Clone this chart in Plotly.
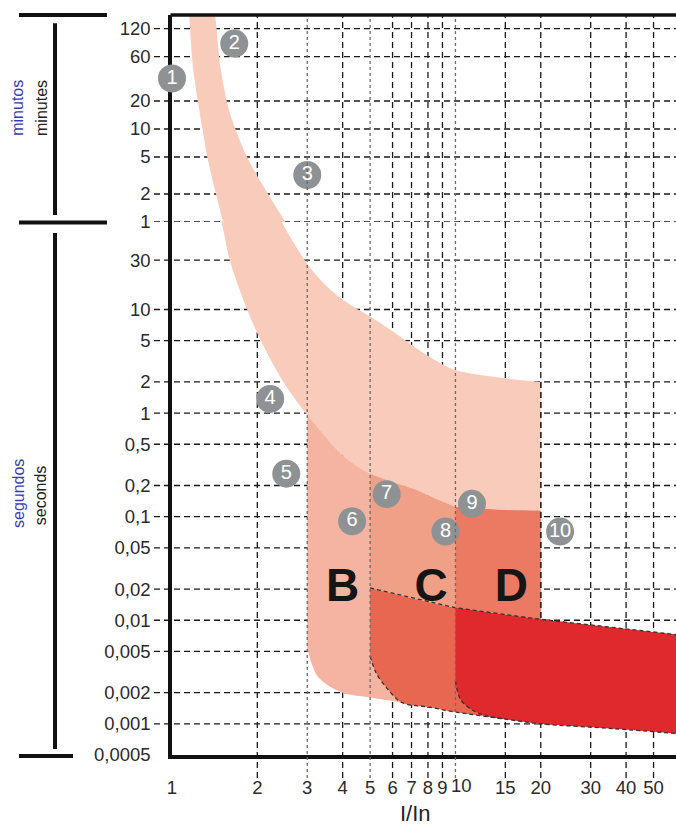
import numpy as np
import plotly.graph_objects as go

# ---------------- data ----------------
x_ticks = [1, 2, 3, 4, 5, 6, 7, 8, 9, 10, 15, 20, 30, 40, 50]
x_labels = ["1", "2", "3", "4", "5", "6", "7", "8", "9", "10",
            "15", "20", "30", "40", "50"]
min_ticks = [1, 2, 5, 10, 20, 60, 120]
sec_ticks = [0.0005, 0.001, 0.002, 0.005, 0.01, 0.02, 0.05, 0.1, 0.2, 0.5, 1, 2, 5, 10, 30]
sec_labels = ["0,0005", "0,001", "0,002", "0,005", "0,01", "0,02", "0,05",
              "0,1", "0,2", "0,5", "1", "2", "5", "10", "30"]

# thermal band, upper limit (I/In, seconds)
upper_x = [1.38, 1.42, 1.488, 1.587, 1.678, 1.84, 2.2, 2.95, 3.36, 3.96, 4.71,
           5.2, 6.46, 7.91, 10, 15, 20]
upper_t = [16000, 9900, 2580, 966, 590, 300, 115, 29.4, 19, 12.7, 9.4,
           8.0, 5.35, 3.64, 2.6, 2.16, 2.0]
# thermal band, lower limit
lower_x = [1.13, 1.149, 1.189, 1.283, 1.332, 1.40, 1.516, 1.602, 1.84, 2.06, 2.47,
           3.0, 3.5, 4.07, 5.0, 6.0, 7.2, 8.56, 10, 15, 20]
lower_t = [16000, 9900, 2580, 587, 300, 156, 59, 29.4, 10, 5, 2,
           0.96, 0.582, 0.376, 0.26, 0.215, 0.183, 0.148, 0.124, 0.116, 0.114]
# instantaneous zone, lower limit (B corner then common bottom line)
bottom_x = [3.0, 3.12, 3.27, 3.6, 4.07, 5.0, 6.46, 8.18, 10, 15, 20, 35.9, 62]
bottom_t = [0.00534, 0.00372, 0.00284, 0.00229, 0.00196, 0.0018, 0.00161, 0.00144,
            0.0013, 0.00111, 0.001, 0.0009, 0.0008]
# instantaneous zone C/D upper limit
inst_top_x = [5, 10, 20, 62]
inst_top_t = [0.0205, 0.0132, 0.0102, 0.0072]
# rounded corners of C and D
c_corner_x = [5, 5.25, 5.7, 6.46]
c_corner_t = [0.0045, 0.0031, 0.00225, 0.00161]
d_corner_x = [10, 10.42, 11.5, 12.8]
d_corner_t = [0.0026, 0.00172, 0.00135, 0.0012]

zone_edges = [3, 5, 10]
letters = ["B", "C", "D"]
letter_x = [4.0, 8.2, 15.75]
letter_t = [0.02, 0.02, 0.02]

marker_n = ["1", "2", "3", "4", "5", "6", "7", "8", "9", "10"]
marker_x = [1.0, 1.658, 3.0, 2.22, 2.53, 4.32, 5.72, 9.22, 11.44, 23.4]
marker_t = [2094, 4980, 192, 1.37, 0.26, 0.0903, 0.165, 0.0718, 0.133, 0.0718]

# ---------------- styles ----------------
C_BAND = "#F8CBBA"
C_B = "#F4B4A1"
C_CUP = "#F0A087"
C_DUP = "#EC7961"
C_CLO = "#E86750"
C_DLO = "#E0292D"
C_BUBBLE = "#8F9295"
FONT = "Liberation Sans, Arial, sans-serif"
SPLIT = 0.7203  # paper y of the minutes/seconds boundary

fig = go.Figure()


def band(x_lo, t_lo, x_hi, t_hi, color, yaxis="y2", scale=1.0, shape="spline"):
    """fill between two boundary curves (second trace fills to the first)"""
    fig.add_trace(go.Scatter(x=x_lo, y=np.array(t_lo, dtype=float) / scale, xaxis="x",
                             yaxis=yaxis, mode="lines",
                             line=dict(width=0, shape=shape, smoothing=0.9),
                             hoverinfo="skip", showlegend=False))
    fig.add_trace(go.Scatter(x=x_hi, y=np.array(t_hi, dtype=float) / scale, xaxis="x",
                             yaxis=yaxis, mode="lines", fill="tonexty", fillcolor=color,
                             line=dict(width=0, shape=shape, smoothing=0.9),
                             hoverinfo="skip", showlegend=False))


def dline(x, t, color="#333333", dash="4px,3px", width=1.3, shape="spline"):
    fig.add_trace(go.Scatter(x=x, y=t, xaxis="x", yaxis="y2", mode="lines",
                             line=dict(color=color, width=width, dash=dash, shape=shape,
                                       smoothing=0.9),
                             hoverinfo="skip", showlegend=False))


i3 = lower_x.index(3.0)
i5 = lower_x.index(5.0)
i10 = lower_x.index(10)
k646 = bottom_x.index(6.46)
j20 = bottom_x.index(20)

# thermal band (drawn in both the minutes and the seconds panel)
band(lower_x, lower_t, upper_x, upper_t, C_BAND, yaxis="y", scale=60.0)
band(lower_x, lower_t, upper_x, upper_t, C_BAND, yaxis="y2")
# B zone
band(bottom_x[:j20 + 1], bottom_t[:j20 + 1], lower_x[i3:], lower_t[i3:], C_B)
# C zone above instantaneous limit
band(inst_top_x[:2], inst_top_t[:2], lower_x[i5:i10 + 1], lower_t[i5:i10 + 1], C_CUP)
# D zone above instantaneous limit
band(inst_top_x[1:3], inst_top_t[1:3], lower_x[i10:], lower_t[i10:], C_DUP)
# C instantaneous zone
band(c_corner_x + bottom_x[k646 + 1:], c_corner_t + bottom_t[k646 + 1:],
     inst_top_x, inst_top_t, C_CLO)
# D instantaneous zone
bx_d = [bx for bx in bottom_x if bx > d_corner_x[-1]]
bt_d = [bt for bx, bt in zip(bottom_x, bottom_t) if bx > d_corner_x[-1]]
band(d_corner_x + bx_d, d_corner_t + bt_d, inst_top_x[1:], inst_top_t[1:], C_DLO)

# dashed outlines
dline(inst_top_x, inst_top_t, shape="linear")
dline(c_corner_x + bottom_x[k646 + 1:], c_corner_t + bottom_t[k646 + 1:])
dline(d_corner_x + bx_d[:1], d_corner_t + bt_d[:1])
dline([upper_x[-1], upper_x[-1]], [upper_t[-1], inst_top_t[2]], color="#1a1a1a",
      dash="6px,4px", width=1.3, shape="linear")

# letters
fig.add_trace(go.Scatter(x=letter_x, y=letter_t, xaxis="x", yaxis="y2", mode="text",
                         text=letters, textposition="middle center",
                         textfont=dict(family=FONT, size=46, color="#151515", weight="bold"),
                         hoverinfo="skip", showlegend=False))

# numbered bubbles
mt = np.array(marker_t, dtype=float)
top_mask = mt >= 60
for mask, yax, scale in [(top_mask, "y", 60.0), (~top_mask, "y2", 1.0)]:
    fig.add_trace(go.Scatter(
        x=np.array(marker_x)[mask], y=mt[mask] / scale, xaxis="x", yaxis=yax,
        mode="markers+text", text=np.array(marker_n)[mask], textposition="middle center",
        marker=dict(size=28, color=C_BUBBLE, line=dict(width=0)),
        textfont=dict(family=FONT, size=20, color="white"),
        cliponaxis=False, hoverinfo="skip", showlegend=False))

# ---------------- grid lines as dashed shapes ----------------
shapes = []
for v in min_ticks:
    shapes.append(dict(type="line", xref="paper", yref="y", x0=-0.0357, x1=1, y0=v, y1=v,
                       line=dict(color="#1a1a1a", width=1.3, dash="6px,4px"), layer="below"))
for v in sec_ticks[1:]:
    shapes.append(dict(type="line", xref="paper", yref="y2", x0=-0.0357, x1=1, y0=v, y1=v,
                       line=dict(color="#1a1a1a", width=1.3, dash="6px,4px"), layer="below"))
for v in x_ticks[1:]:
    if v in zone_edges:
        shapes.append(dict(type="line", xref="x", yref="paper", x0=v, x1=v, y0=-0.031, y1=1,
                           line=dict(color="#6a6a6a", width=1.3, dash="3px,3px"), layer="above"))
    else:
        shapes.append(dict(type="line", xref="x", yref="paper", x0=v, x1=v, y0=-0.031, y1=1,
                           line=dict(color="#1a1a1a", width=1.3, dash="6px,4px"), layer="below"))

# frame top line
shapes.append(dict(type="line", xref="paper", yref="paper", x0=-0.003, x1=1, y0=1, y1=1,
                   line=dict(color="#111111", width=3.5), layer="above"))
# left brackets
BR = dict(color="#111111", width=4)
shapes += [
    dict(type="line", xref="paper", yref="paper", x0=-0.3036, x1=-0.129, y0=1.0, y1=1.0, line=BR),
    dict(type="line", xref="paper", yref="paper", x0=-0.2321, x1=-0.2321, y0=0.989, y1=0.7297, line=BR),
    dict(type="line", xref="paper", yref="paper", x0=-0.3036, x1=-0.129, y0=SPLIT - 0.0007, y1=SPLIT - 0.0007, line=BR),
    dict(type="line", xref="paper", yref="paper", x0=-0.2321, x1=-0.2321, y0=0.7054, y1=0.0081, line=BR),
    dict(type="line", xref="paper", yref="paper", x0=-0.3036, x1=-0.1964, y0=-0.0014, y1=-0.0014, line=BR),
]

TICKFONT = dict(family=FONT, size=18.5, color="#2a2a2a")

# crowded tick "10": its label is placed as an annotation nudged right
crowded = 10
tick_text_axis = ["" if v == crowded else lab for v, lab in zip(x_ticks, x_labels)]

annotations = [
    dict(text="minutos", xref="paper", yref="paper", x=-0.3065, y=0.874, textangle=-90,
         showarrow=False, font=dict(family=FONT, size=16, color="#3a3ab8"),
         xanchor="center", yanchor="middle"),
    dict(text="minutes", xref="paper", yref="paper", x=-0.2585, y=0.874, textangle=-90,
         showarrow=False, font=dict(family=FONT, size=16, color="#222222"),
         xanchor="center", yanchor="middle"),
    dict(text="segundos", xref="paper", yref="paper", x=-0.3056, y=0.354, textangle=-90,
         showarrow=False, font=dict(family=FONT, size=16, color="#3a3ab8"),
         xanchor="center", yanchor="middle"),
    dict(text="seconds", xref="paper", yref="paper", x=-0.2619, y=0.351, textangle=-90,
         showarrow=False, font=dict(family=FONT, size=16, color="#222222"),
         xanchor="center", yanchor="middle"),
    dict(text="I/In", xref="paper", yref="paper", x=0.484, y=-0.0986, showarrow=False,
         font=dict(family=FONT, size=22, color="#222222"), xanchor="center", yanchor="bottom"),
    dict(text=x_labels[x_ticks.index(crowded)], xref="x", yref="paper",
         x=np.log10(crowded), y=-0.0414, xshift=6, showarrow=False,
         font=TICKFONT, xanchor="center", yanchor="middle"),
]

fig.update_layout(
    width=676, height=830,
    margin=dict(l=172, r=0, t=15, b=75),
    paper_bgcolor="white", plot_bgcolor="white",
    showlegend=False,
    shapes=shapes, annotations=annotations,
    xaxis=dict(type="log", range=[0, np.log10(60)], domain=[0, 1], anchor="y2",
               tickvals=x_ticks, ticktext=tick_text_axis, tickangle=0,
               showline=True, linewidth=4, linecolor="#111111",
               ticks="outside", ticklen=13, tickcolor="rgba(0,0,0,0)",
               showgrid=False, zeroline=False, tickfont=TICKFONT, layer="below traces"),
    yaxis=dict(type="log", range=[0, 2.226], domain=[SPLIT, 1], anchor="x",
               tickvals=min_ticks, ticktext=[str(v) for v in min_ticks],
               showline=True, linewidth=3.5, linecolor="#111111",
               ticks="outside", ticklen=14, tickcolor="rgba(0,0,0,0)",
               showgrid=False, zeroline=False, tickfont=TICKFONT, layer="below traces"),
    yaxis2=dict(type="log", range=[np.log10(0.0005), np.log10(70)], domain=[0, SPLIT], anchor="x",
                tickvals=sec_ticks, ticktext=sec_labels,
                showline=True, linewidth=3.5, linecolor="#111111",
                ticks="outside", ticklen=14, tickcolor="rgba(0,0,0,0)",
                showgrid=False, zeroline=False, tickfont=TICKFONT, layer="below traces"),
)

fig.write_html("out.html", config={"displayModeBar": False},
               post_script="document.body.style.margin='0';document.body.style.overflow='hidden';")
